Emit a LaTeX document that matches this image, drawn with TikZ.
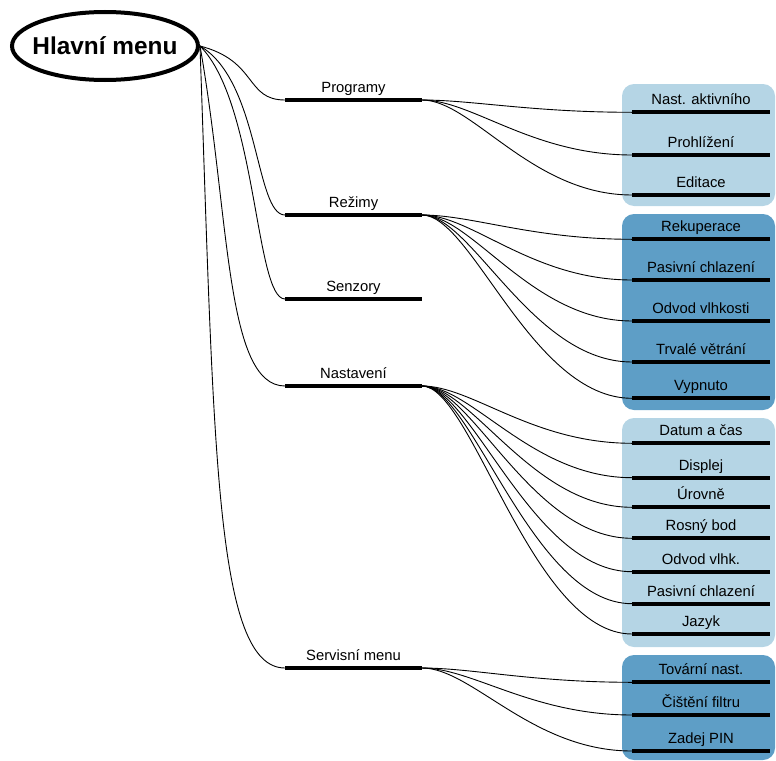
\documentclass[tikz,border=0pt]{standalone}
\usepackage{fontspec}
\setmainfont{Liberation Sans}
\usetikzlibrary{shapes.geometric}
\definecolor{boxlight}{RGB}{181,213,229}
\definecolor{boxdark}{RGB}{94,158,198}
\begin{document}
\begin{tikzpicture}[x=1pt,y=-1pt,
  barone/.style={fill=black,draw=none,minimum width=137pt,minimum height=4.3pt,inner sep=0pt,outer sep=0pt},
  bartwo/.style={barone,minimum width=138pt},
  lab/.style={font=\fontsize{14.8}{16}\selectfont,inner sep=0pt,anchor=base},
  conn/.style={draw=black,line width=0.9pt},
  grplight/.style={fill=boxlight,rounded corners=12pt},
  grpdark/.style={fill=boxdark,rounded corners=12pt}]
\useasboundingbox (0,0) rectangle (776,760);
% group boxes
\path[grplight] (622,84) rectangle (775,206);
\path[grpdark] (622,214) rectangle (775,410);
\path[grplight] (622,418) rectangle (775,647);
\path[grpdark] (622,655) rectangle (775,760);
% root
\node[ellipse,draw,line width=4pt,minimum width=186pt,minimum height=68pt,inner sep=0pt] (main) at (105,46) {};
\node[font=\bfseries\fontsize{24.4}{28}\selectfont,inner sep=0pt,anchor=base] (maintext) at (105,54.5) {Hlavní menu};
% level 1
\node[barone] (prog) at (353.5,100) {};
\node[lab] (progl) at ([yshift=5.5pt]prog.north) {Programy};
\node[barone] (rez) at (353.5,215) {};
\node[lab] (rezl) at ([yshift=5.5pt]rez.north) {Režimy};
\node[barone] (sen) at (353.5,299) {};
\node[lab] (senl) at ([yshift=5.5pt]sen.north) {Senzory};
\node[barone] (nas) at (353.5,386) {};
\node[lab] (nasl) at ([yshift=5.5pt]nas.north) {Nastavení};
\node[barone] (ser) at (353.5,668) {};
\node[lab] (serl) at ([yshift=5.5pt]ser.north) {Servisní menu};
% level 2
\node[bartwo] (p1) at (701,112.3) {};
\node[lab] at ([yshift=5.5pt]p1.north) {Nast. aktivního};
\node[bartwo] (p2) at (701,155) {};
\node[lab] at ([yshift=5.5pt]p2.north) {Prohlížení};
\node[bartwo] (p3) at (701,195) {};
\node[lab] at ([yshift=5.5pt]p3.north) {Editace};
\node[bartwo] (r1) at (701,239.3) {};
\node[lab] at ([yshift=5.5pt]r1.north) {Rekuperace};
\node[bartwo] (r2) at (701,280) {};
\node[lab] at ([yshift=5.5pt]r2.north) {Pasivní chlazení};
\node[bartwo] (r3) at (701,321) {};
\node[lab] at ([yshift=5.5pt]r3.north) {Odvod vlhkosti};
\node[bartwo] (r4) at (701,362) {};
\node[lab] at ([yshift=5.5pt]r4.north) {Trvalé větrání};
\node[bartwo] (r5) at (701,398.3) {};
\node[lab] at ([yshift=5.5pt]r5.north) {Vypnuto};
\node[bartwo] (n1) at (701,443.3) {};
\node[lab] at ([yshift=5.5pt]n1.north) {Datum a čas};
\node[bartwo] (n2) at (701,477.7) {};
\node[lab] at ([yshift=5.5pt]n2.north) {Displej};
\node[bartwo] (n3) at (701,507.3) {};
\node[lab] at ([yshift=5.5pt]n3.north) {Úrovně};
\node[bartwo] (n4) at (701,538.3) {};
\node[lab] at ([yshift=5.5pt]n4.north) {Rosný bod};
\node[bartwo] (n5) at (701,571.7) {};
\node[lab] at ([yshift=5.5pt]n5.north) {Odvod vlhk.};
\node[bartwo] (n6) at (701,603.7) {};
\node[lab] at ([yshift=5.5pt]n6.north) {Pasivní chlazení};
\node[bartwo] (n7) at (701,634) {};
\node[lab] at ([yshift=5.5pt]n7.north) {Jazyk};
\node[bartwo] (s1) at (701,682.3) {};
\node[lab] at ([yshift=5.5pt]s1.north) {Tovární nast.};
\node[bartwo] (s2) at (701,715) {};
\node[lab] at ([yshift=5.5pt]s2.north) {Čištění filtru};
\node[bartwo] (s3) at (701,751) {};
\node[lab] at ([yshift=5.5pt]s3.north) {Zadej PIN};
% connectors root -> level 1
\draw[conn] (main.east) .. controls +(58,15) and +(-40,0) .. (prog.west);
\draw[conn] (main.east) .. controls +(60,35) and +(-30,0) .. (rez.west);
\draw[conn] (main.east) .. controls +(57,57) and +(-30,0) .. (sen.west);
\draw[conn] (main.east) .. controls +(30,170) and +(-60,0) .. (nas.west);
\draw[conn] (main.east) .. controls +(14,400) and +(-70,0) .. (ser.west);
% connectors level 1 -> level 2
\foreach \c in {p1,p2,p3}{\draw[conn] (prog.east) .. controls +(50,0) and +(-100,0) .. (\c.west);}
\foreach \c in {r1,r2,r3,r4,r5}{\draw[conn] (rez.east) .. controls +(50,0) and +(-100,0) .. (\c.west);}
\foreach \c in {n1,n2,n3,n4,n5,n6,n7}{\draw[conn] (nas.east) .. controls +(50,0) and +(-100,0) .. (\c.west);}
\foreach \c in {s1,s2,s3}{\draw[conn] (ser.east) .. controls +(50,0) and +(-100,0) .. (\c.west);}
\end{tikzpicture}
\end{document}
